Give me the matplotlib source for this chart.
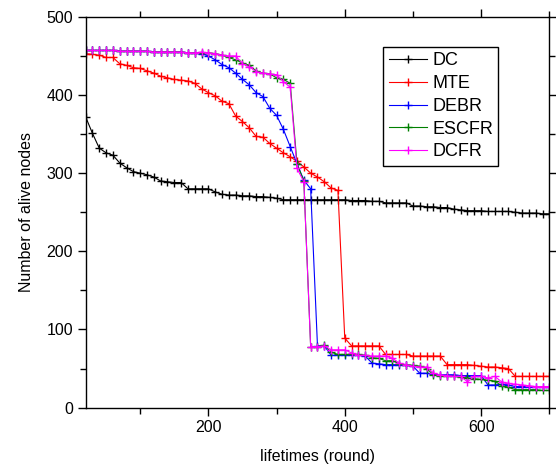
import matplotlib
matplotlib.use('Agg')
import matplotlib.pyplot as plt
from matplotlib.ticker import MultipleLocator

plt.rcParams['font.family'] = ['Liberation Sans', 'DejaVu Sans']

rounds = list(range(20, 701, 10))

flat = [457, 457, 457, 457, 457, 456, 456, 456, 456, 456,
        455, 455, 455, 455, 455, 454, 454]

dc = [372, 351, 332, 326, 323, 313, 307, 302, 300, 298,
      295, 290, 289, 288, 288, 280, 280, 280, 280, 276,
      273, 272, 272, 271, 271, 270, 270, 269, 268, 266,
      266, 266, 266, 266, 266, 266, 266, 266, 266, 265,
      265, 265, 264, 264, 262, 262, 262, 262, 258, 258,
      257, 257, 256, 256, 254, 253, 252, 252, 252, 251,
      251, 251, 251, 250, 249, 249, 249, 248, 248]

mte = [453, 452, 451, 448, 448, 440, 438, 435, 434, 431,
       428, 424, 422, 420, 419, 418, 415, 408, 403, 399,
       392, 389, 373, 366, 358, 347, 346, 338, 332, 326,
       321, 315, 308, 300, 295, 289, 281, 278, 89, 79,
       79, 79, 79, 79, 68, 68, 68, 68, 66, 66,
       66, 66, 66, 55, 55, 55, 55, 54, 53, 52,
       52, 51, 50, 40, 40, 40, 40, 40, 40]

debr = flat + [453, 450, 445, 439, 435, 428, 420, 413, 403, 398,
               383, 374, 356, 334, 312, 291, 280, 79, 79, 67,
               67, 67, 67, 67, 66, 57, 56, 55, 55, 55,
               54, 53, 44, 44, 43, 42, 42, 42, 41, 41,
               41, 41, 29, 29, 30, 29, 27, 27, 27, 27,
               26, 26]

escfr = flat + [454, 454, 453, 451, 448, 445, 441, 438, 431, 428,
                427, 422, 420, 415, 312, 290, 78, 78, 80, 71,
                68, 68, 68, 68, 67, 64, 63, 60, 60, 56,
                55, 54, 53, 50, 42, 41, 40, 40, 39, 38,
                37, 36, 35, 34, 28, 26, 23, 23, 23, 23,
                22, 22]

dcfr = flat + [455, 454, 453, 451, 450, 450, 440, 436, 430, 428,
               427, 426, 417, 410, 306, 289, 78, 78, 79, 74,
               74, 74, 70, 67, 67, 66, 66, 66, 63, 57,
               55, 53, 52, 52, 44, 42, 41, 40, 40, 33,
               40, 40, 38, 40, 33, 31, 30, 29, 28, 27,
               27, 27]

names = ['DC', 'MTE', 'DEBR', 'ESCFR', 'DCFR']
series = [dc, mte, debr, escfr, dcfr]
colors = ['black', '#ff0000', '#0000ff', '#008000', '#ff00ff']

fig = plt.figure(figsize=(5.56, 4.68), dpi=100)
ax = fig.add_axes([0.154, 0.129, 0.834, 0.835])

for name, vals, c in zip(names, series, colors):
    ax.plot(rounds, vals, '-', color=c, lw=0.8, marker='+', ms=5.5, mew=1.0, label=name)

ax.set_xlim(20, 700)
ax.set_ylim(0, 500)
ax.xaxis.set_major_locator(MultipleLocator(200))
ax.xaxis.set_minor_locator(MultipleLocator(100))
ax.yaxis.set_major_locator(MultipleLocator(100))
ax.yaxis.set_minor_locator(MultipleLocator(50))
ax.tick_params(which='both', direction='out', top=True, right=True, labelsize=11.5, width=1)
ax.tick_params(which='major', length=5.5)
ax.tick_params(which='minor', length=4)
for s in ax.spines.values():
    s.set_linewidth(1)

ax.set_xlabel('lifetimes (round)', fontsize=11.5, labelpad=10)
ax.set_ylabel('Number of alive nodes', fontsize=11.5, labelpad=9)

leg = ax.legend(loc='upper left', bbox_to_anchor=(0.642, 0.923), borderaxespad=0,
                fancybox=False, edgecolor='black', framealpha=1, fontsize=13,
                handlelength=2.1, handletextpad=0.3, labelspacing=0.32, borderpad=0.3)
leg.get_frame().set_linewidth(1)

fig.savefig('out.png', dpi=100)
